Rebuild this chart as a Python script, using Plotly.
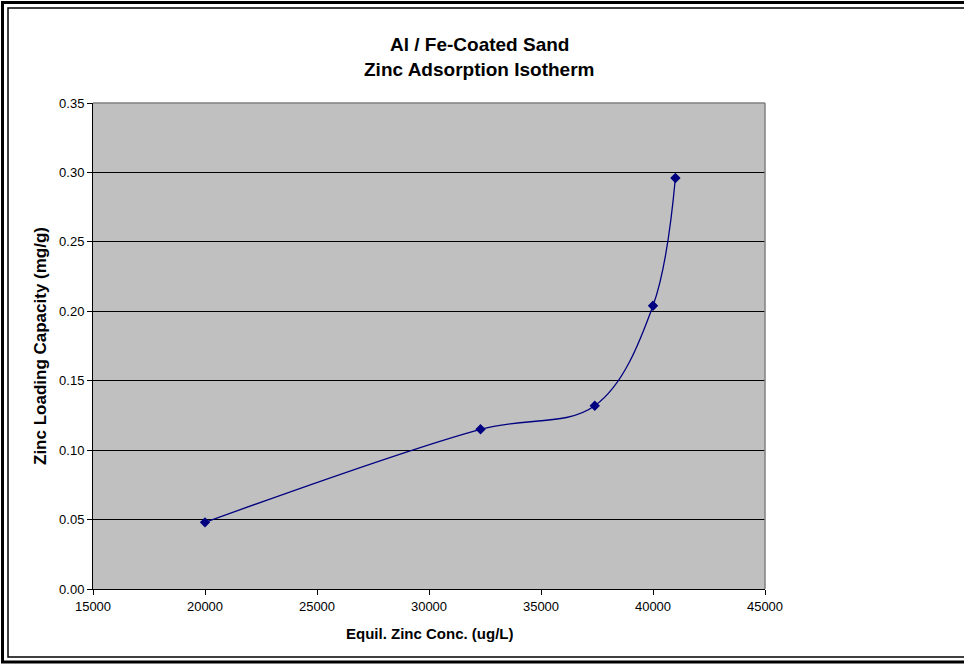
import plotly.graph_objects as go

# Equilibrium zinc concentration (ug/L) and loading capacity (mg/g)
conc_ugL = [20000, 32300, 37400, 40000, 41000]
loading_mgg = [0.048, 0.115, 0.132, 0.204, 0.296]

title_lines = ["Al / Fe-Coated Sand", "Zinc Adsorption Isotherm"]
x_title = "Equil. Zinc Conc. (ug/L)"
y_title = "Zinc Loading Capacity (mg/g)"

W, H = 964, 666
L, R, T, B = 93, 199, 103, 77
PW, PH = W - L - R, H - T - B

FONT = "Arial, Liberation Sans, sans-serif"
NAVY = "#000080"


def px(x):
    return (x - L) / PW


def py(y):
    return (H - B - y) / PH


fig = go.Figure()
fig.add_trace(go.Scatter(
    x=conc_ugL, y=loading_mgg, mode="lines+markers",
    line=dict(color=NAVY, width=1.3, shape="spline", smoothing=1.0),
    marker=dict(symbol="diamond", size=8, color=NAVY),
    showlegend=False, cliponaxis=False,
))

axis_common = dict(
    showline=True, linecolor="black", linewidth=1,
    ticks="outside", ticklen=5, tickcolor="black", tickwidth=1,
    tickfont=dict(family=FONT, size=13, color="black"),
    zeroline=False, mirror=False,
)

fig.update_xaxes(range=[15000, 45000], dtick=5000, tick0=15000,
                 tickformat="d", showgrid=False, **axis_common)
fig.update_yaxes(range=[0, 0.35], dtick=0.05, tickformat=".2f",
                 showgrid=True, gridcolor="black", gridwidth=1, **axis_common)

shapes = [
    # gray top/right border of plot area
    dict(type="line", xref="paper", yref="paper", x0=0, x1=1, y0=1, y1=1,
         line=dict(color="#808080", width=1.5)),
    dict(type="line", xref="paper", yref="paper", x0=1, x1=1, y0=0, y1=1,
         line=dict(color="#808080", width=1.5)),
    # double frame around chart
    dict(type="rect", xref="paper", yref="paper", layer="above",
         x0=px(2.5), x1=px(970), y0=py(2.5), y1=py(662),
         line=dict(color="black", width=3)),
    dict(type="rect", xref="paper", yref="paper", layer="above",
         x0=px(8), x1=px(970), y0=py(8), y1=py(657),
         line=dict(color="black", width=1.5)),
]


def label(text, x, y, size, angle=0):
    return dict(text="<b>%s</b>" % text, xref="paper", yref="paper",
                x=x, y=y, xanchor="center", yanchor="middle",
                showarrow=False, textangle=angle,
                font=dict(family=FONT, size=size, color="black"))


annotations = [
    label(title_lines[0], px(479), py(45), 19),
    label(title_lines[1], px(479), py(69), 19),
    label(x_title, 0.5, py(633), 15),
    label(y_title, px(40), 0.5, 17, angle=-90),
]

fig.update_layout(
    width=W, height=H, autosize=False,
    margin=dict(l=L, r=R, t=T, b=B, pad=0),
    paper_bgcolor="white", plot_bgcolor="#C0C0C0",
    shapes=shapes, annotations=annotations,
)

fig.write_html("out.html")
